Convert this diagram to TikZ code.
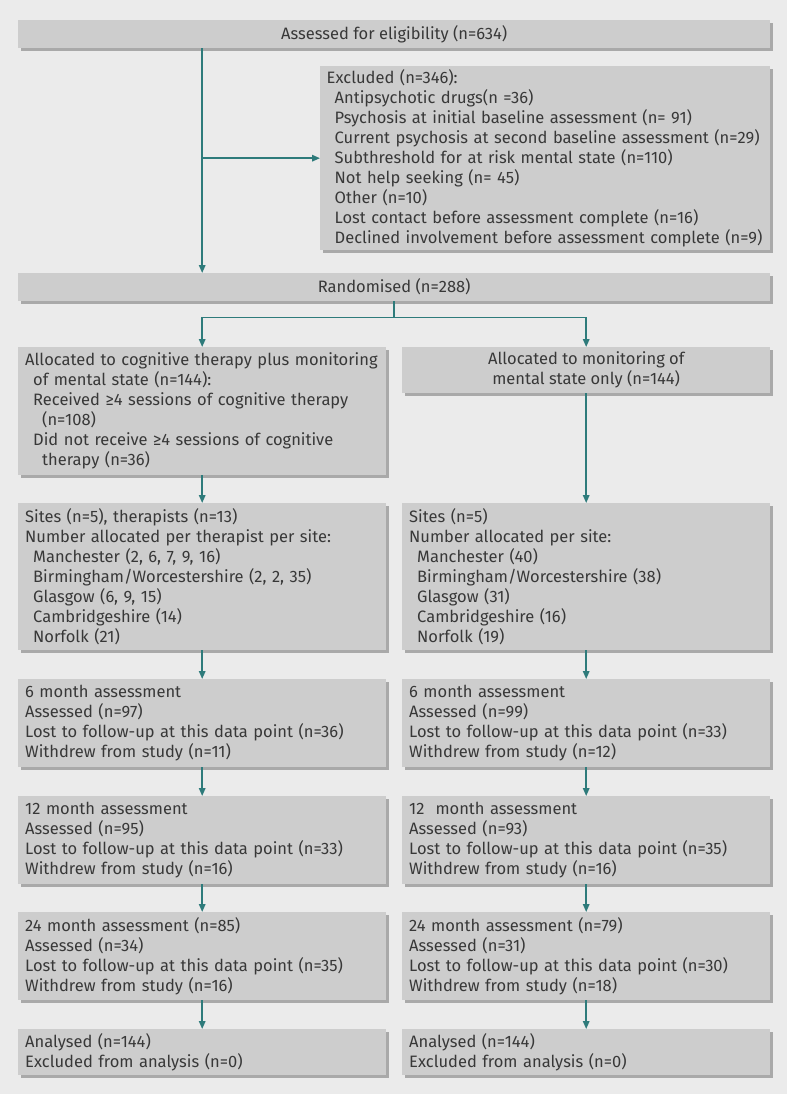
\documentclass[tikz,border=0pt]{standalone}
\usepackage{fontspec}
\setmainfont{Fira Sans}
\usetikzlibrary{shadows,arrows.meta}

\definecolor{pagegray}{HTML}{EBEBEB}
\definecolor{boxgray}{HTML}{CDCDCD}
\definecolor{shadegray}{HTML}{A9A9A9}
\definecolor{linkteal}{HTML}{2E7B7B}
\definecolor{inkgray}{HTML}{383838}

\tikzset{
  flowbox/.style={fill=boxgray, draw=none, anchor=north west, inner sep=0pt,
    text=inkgray, font=\fontsize{16.5}{20}\selectfont,
    drop shadow={shadow xshift=3pt, shadow yshift=-3pt, fill=shadegray, opacity=1}},
  leftbox/.style={flowbox, align=left, inner xsep=7pt, text width=#1},
  link/.style={linkteal, line width=1.6pt},
  arrow/.style={link, -{Triangle[length=8pt, width=6.5pt]}},
}
\newcommand{\ind}{\hspace*{8pt}}
\newcommand{\indd}{\hspace*{17pt}}

\begin{document}
\begin{tikzpicture}[x=1pt, y=-1pt]
  % Hintergrund und Rahmen
  \fill[pagegray] (0,0) rectangle (787,1094);
  \useasboundingbox (0,0) rectangle (787,1094);

  % Screening
  \node[flowbox, minimum width=752pt, minimum height=28pt, align=center] (elig) at (18,20)
    {Assessed for eligibility (n=634)};
  \node[leftbox=437pt, inner xsep=6.5pt, minimum height=184pt] (excl) at (320,66)
    {Excluded (n=346):\\
     \ind Antipsychotic drugs(n =36)\\
     \ind Psychosis at initial baseline assessment (n= 91)\\
     \ind Current psychosis at second baseline assessment (n=29)\\
     \ind Subthreshold for at risk mental state (n=110)\\
     \ind Not help seeking (n= 45)\\
     \ind Other (n=10)\\
     \ind Lost contact before assessment complete (n=16)\\
     \ind Declined involvement before assessment complete (n=9)};
  \node[flowbox, minimum width=752pt, minimum height=28pt, align=center] (rand) at (18,273)
    {Randomised (n=288)};

  % Zuteilung
  \node[leftbox=354pt, minimum height=128pt] (alloc1) at (18,347)
    {Allocated to cognitive therapy plus monitoring\\
     \ind of mental state (n=144):\\
     \ind Received \char"2265 4 sessions of cognitive therapy\\
     \indd (n=108)\\
     \ind Did not receive \char"2265 4 sessions of cognitive\\
     \indd therapy (n=36)};
  \node[flowbox, minimum width=368pt, minimum height=46pt, align=center] (alloc2) at (402,347)
    {Allocated to monitoring of\\mental state only (n=144)};

  % Zentren
  \node[leftbox=354pt, minimum height=147pt] (sites1) at (18,503)
    {Sites (n=5), therapists (n=13)\\
     Number allocated per therapist per site:\\
     \ind Manchester (2, 6, 7, 9, 16)\\
     \ind Birmingham/Worcestershire (2, 2, 35)\\
     \ind Glasgow (6, 9, 15)\\
     \ind Cambridgeshire (14)\\
     \ind Norfolk (21)};
  \node[leftbox=354pt, minimum height=147pt] (sites2) at (402,503)
    {Sites (n=5)\\
     Number allocated per site:\\
     \ind Manchester (40)\\
     \ind Birmingham/Worcestershire (38)\\
     \ind Glasgow (31)\\
     \ind Cambridgeshire (16)\\
     \ind Norfolk (19)};

  % Nachbeobachtung
  \node[leftbox=354pt, minimum height=88pt] (six1) at (18,679)
    {6 month assessment\\ Assessed (n=97)\\
     Lost to follow-up at this data point (n=36)\\ Withdrew from study (n=11)};
  \node[leftbox=354pt, minimum height=88pt] (six2) at (402,679)
    {6 month assessment\\ Assessed (n=99)\\
     Lost to follow-up at this data point (n=33)\\ Withdrew from study (n=12)};
  \node[leftbox=354pt, minimum height=88pt] (twelve1) at (18,796)
    {12 month assessment\\ Assessed (n=95)\\
     Lost to follow-up at this data point (n=33)\\ Withdrew from study (n=16)};
  \node[leftbox=354pt, minimum height=88pt] (twelve2) at (402,796)
    {12\ \ month assessment\\ Assessed (n=93)\\
     Lost to follow-up at this data point (n=35)\\ Withdrew from study (n=16)};
  \node[leftbox=354pt, minimum height=88pt] (tfour1) at (18,912)
    {24 month assessment (n=85)\\ Assessed (n=34)\\
     Lost to follow-up at this data point (n=35)\\ Withdrew from study (n=16)};
  \node[leftbox=354pt, minimum height=88pt] (tfour2) at (402,912)
    {24 month assessment (n=79)\\ Assessed (n=31)\\
     Lost to follow-up at this data point (n=30)\\ Withdrew from study (n=18)};

  % Analyse
  \node[leftbox=354pt, minimum height=46pt] (ana1) at (18,1029)
    {Analysed (n=144)\\ Excluded from analysis (n=0)};
  \node[leftbox=354pt, minimum height=46pt] (ana2) at (402,1029)
    {Analysed (n=144)\\ Excluded from analysis (n=0)};

  % Pfeile
  \draw[arrow] (elig.south -| alloc1.north) -- (rand.north -| alloc1.north);
  \draw[arrow] (excl.west -| alloc1.north) -- (excl.west);
  \draw[arrow] (rand.south) -- ++(0,16) -| (alloc1.north);
  \draw[arrow] (rand.south) ++(0,16) -| (alloc2.north);
  \draw[arrow] (alloc1) -- (sites1);
  \draw[arrow] (alloc2) -- (sites2);
  \foreach \a/\b in {sites1/six1, six1/twelve1, twelve1/tfour1, tfour1/ana1,
                     sites2/six2, six2/twelve2, twelve2/tfour2, tfour2/ana2}
    \draw[arrow] (\a) -- (\b);
\end{tikzpicture}
\end{document}
